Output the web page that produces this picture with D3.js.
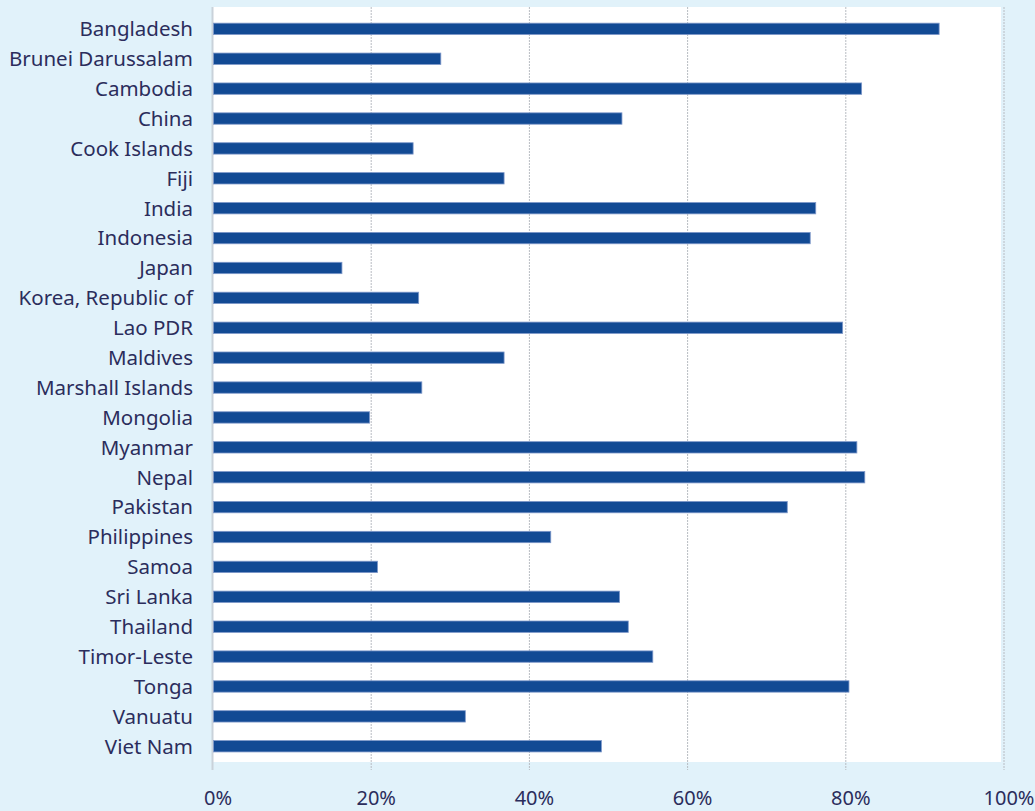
<!DOCTYPE html>
<html>
<head>
<meta charset="utf-8">
<script src="https://cdn.jsdelivr.net/npm/d3@7"></script>
<style>
  body { margin: 0; background: #e1f2fa; }
  svg { display: block; }
  text { font-family: "Noto Sans", "Open Sans", sans-serif; fill: #2b2d5c; }
</style>
</head>
<body>
<div id="chart"></div>
<script>
// chart size
var width = 1035;
var height = 811;

// data
var countries = [
  "Bangladesh", "Brunei Darussalam", "Cambodia", "China", "Cook Islands",
  "Fiji", "India", "Indonesia", "Japan", "Korea, Republic of",
  "Lao PDR", "Maldives", "Marshall Islands", "Mongolia", "Myanmar",
  "Nepal", "Pakistan", "Philippines", "Samoa", "Sri Lanka",
  "Thailand", "Timor-Leste", "Tonga", "Vanuatu", "Viet Nam"
];
var shares = [
  91.8, 28.8, 82.0, 51.7, 25.3,
  36.8, 76.2, 75.5, 16.3, 26.0,
  79.6, 36.8, 26.4, 19.8, 81.4,
  82.4, 72.6, 42.7, 20.8, 51.4,
  52.5, 55.6, 80.4, 31.9, 49.1
];
var ticks = [0, 20, 40, 60, 80, 100];

// plot box
var plotLeft = 213, plotRight = 1004, plotTop = 7, plotBottom = 762;

var svg = d3.select("#chart").append("svg")
  .attr("width", width)
  .attr("height", height);

var x = d3.scaleLinear().domain([0, 100]).range([plotLeft, plotRight]);
var y = d3.scaleBand().domain(countries)
  .range([13.9, 761.2])
  .paddingInner(0.62)
  .paddingOuter(0.31);

// white plot area
svg.append("rect")
  .attr("x", plotLeft)
  .attr("y", plotTop)
  .attr("width", plotRight - plotLeft - 3)
  .attr("height", plotBottom - plotTop)
  .style("fill", "#ffffff");

// dotted grid
svg.selectAll("line.grid")
  .data(ticks.slice(1))
  .enter()
  .append("line")
  .attr("class", "grid")
  .attr("x1", function (d) { return x(d); })
  .attr("x2", function (d) { return x(d); })
  .attr("y1", plotTop)
  .attr("y2", 770)
  .style("stroke", "#b8bcc2")
  .style("stroke-width", 1)
  .style("stroke-dasharray", "2,1");

// zero line
svg.append("line")
  .attr("x1", x(0) - 0.5)
  .attr("x2", x(0) - 0.5)
  .attr("y1", plotTop)
  .attr("y2", 770)
  .style("stroke", "#c9d2da")
  .style("stroke-width", 2);

// bars
svg.selectAll("rect.bar")
  .data(countries)
  .enter()
  .append("rect")
  .attr("class", "bar")
  .attr("x", x(0) + 0.5)
  .attr("y", function (d) { return y(d); })
  .attr("width", function (d, i) { return x(shares[i]) - x(0) - 0.5; })
  .attr("height", y.bandwidth())
  .style("fill", "#124a94")
  .style("stroke", "#7d97c9")
  .style("stroke-width", 0.8);

// category labels
svg.selectAll("text.cat")
  .data(countries)
  .enter()
  .append("text")
  .attr("class", "cat")
  .attr("x", plotLeft - 20)
  .attr("y", function (d) { return y(d) + y.bandwidth() / 2; })
  .attr("dy", "0.36em")
  .attr("text-anchor", "end")
  .style("font-size", "20.5px")
  .text(function (d) { return d; });

// tick labels
svg.selectAll("text.tick")
  .data(ticks)
  .enter()
  .append("text")
  .attr("class", "tick")
  .attr("x", function (d) { return x(d) + 5; })
  .attr("y", 805)
  .attr("text-anchor", "middle")
  .style("font-size", "20px")
  .text(function (d) { return d + "%"; });
</script>
</body>
</html>
